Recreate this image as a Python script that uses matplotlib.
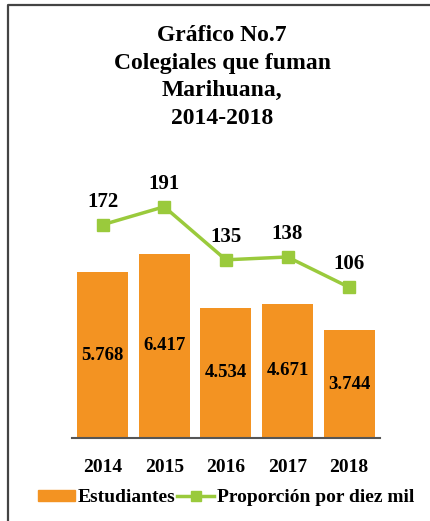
import matplotlib
matplotlib.use("Agg")
import matplotlib.pyplot as plt
from matplotlib.lines import Line2D
from matplotlib.patches import Patch

years = ["2014", "2015", "2016", "2017", "2018"]
estudiantes = [5.768, 6.417, 4.534, 4.671, 3.744]
estudiantes_labels = ["5.768", "6.417", "4.534", "4.671", "3.744"]
proporcion = [172, 191, 135, 138, 106]

title = "Gráfico No.7\nColegiales que fuman\nMarihuana,\n2014-2018"
bar_name = "Estudiantes"
line_name = "Proporción por diez mil"

ORANGE = "#F39322"
GREEN = "#9ACA3C"
FONT = "Liberation Serif"

plt.rcParams["font.family"] = [FONT, "DejaVu Serif"]
plt.rcParams["font.weight"] = "bold"

W, H = 430, 521
fig = plt.figure(figsize=(W / 100, H / 100), dpi=100)

# frame lines (top and left)
fig.add_artist(Line2D([8 / W, 8 / W, 1.0], [0.0, 1 - 5 / H, 1 - 5 / H],
                      transform=fig.transFigure, color="#444444", lw=1.6))

left, right = 71.7 / W, 380 / W
bottom, top = 1 - 438 / H, 1 - 170 / H
ax = fig.add_axes([left, bottom, right - left, top - bottom])
ax2 = ax.twinx()

x = list(range(len(years)))
bars = ax.bar(x, estudiantes, width=0.83, color=ORANGE, zorder=2)
ax.set_xlim(-0.5, 4.5)
ax.set_ylim(0, 268 / 28.75)
for xi, v, lab in zip(x, estudiantes, estudiantes_labels):
    ax.text(xi, v / 2, lab, ha="center", va="center", fontsize=13.5,
            fontweight="bold", color="black")

ax2.plot(x, proporcion, color=GREEN, lw=2.5, marker="s", markersize=8.5,
         markerfacecolor=GREEN, markeredgecolor=GREEN, zorder=3)
scale = 0.948
ax2.set_ylim(-(438 - 387.8) / scale, (387.8 - 170) / scale)
for xi, v in zip(x, proporcion):
    ax2.annotate(str(v), (xi, v), xytext=(0, 23), textcoords="offset pixels",
                 ha="center", va="center", fontsize=15, fontweight="bold")

for a in (ax, ax2):
    for s in ("top", "right", "left"):
        a.spines[s].set_visible(False)
    a.set_yticks([])
ax2.spines["bottom"].set_visible(False)
ax.spines["bottom"].set_color("#555555")
ax.spines["bottom"].set_linewidth(1.5)
ax.set_xticks(x)
ax.set_xticklabels(years, fontsize=14, fontweight="bold")
ax.tick_params(axis="x", length=0, pad=15)

fig.text(222 / W, 1 - 77 / H, title, ha="center", va="center", fontsize=17,
         fontweight="bold", linespacing=1.43)

handles = [Patch(facecolor=ORANGE, edgecolor=ORANGE),
           Line2D([0], [0], color=GREEN, lw=2.5, marker="s", markersize=7,
                  markerfacecolor=GREEN, markeredgecolor=GREEN)]
fig.legend(handles, [bar_name, line_name], loc="center",
           bbox_to_anchor=(226 / W, 1 - 498 / H), ncol=2, frameon=False,
           prop={"family": FONT, "weight": "bold", "size": 14},
           handlelength=1.9, handleheight=0.55, handletextpad=0.15,
           columnspacing=0.1, borderpad=0, borderaxespad=0)

fig.savefig("out.png", dpi=100)
